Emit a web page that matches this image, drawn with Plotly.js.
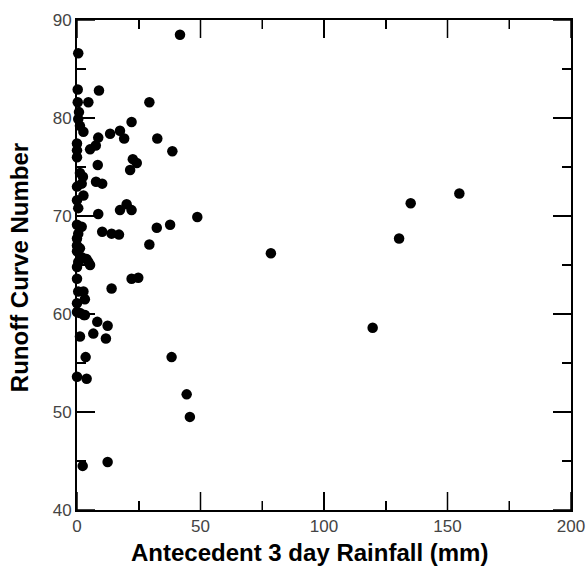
<!DOCTYPE html>
<html>
<head>
<meta charset="utf-8">
<script src="https://cdn.plot.ly/plotly-3.0.1.min.js"></script>
<style>html,body{margin:0;padding:0;background:#fff;}#wrap{position:relative;width:588px;height:567px;}#chart{width:588px;height:567px;}#tickOverlay{position:absolute;left:0;top:0;width:588px;height:567px;pointer-events:none;}</style>
</head>
<body>
<div id="wrap">
<div id="chart"></div>
<svg id="tickOverlay" xmlns="http://www.w3.org/2000/svg" width="588" height="567"></svg>
</div>
<script>
// Antecedent 3-day rainfall (mm)
const rainfall = [
  41.7, 8.9, 4.6, 29.3, 22.1, 13.4, 17.4, 19.1, 32.5, 8.6,
  7.6, 5.3, 38.6, 22.6, 24.2, 8.4, 21.5, 7.7, 10.2, 20.1,
  22.1, 17.4, 8.6, 48.7, 37.7, 32.3, 10.2, 14.0, 17.0, 29.3,
  78.5, 4.6, 22.1, 24.8, 14.0, 130.4, 135.1, 154.8, 119.7, 3.2,
  8.2, 12.4, 6.6, 11.7, 1.2, 3.5, 38.3, 0.0, 3.9, 44.4,
  45.7, 2.3, 12.4, 0.5, 0.3, 0.3, 0.8, 0.5, 1.2, 2.6,
  0.0, 0.0, 0.0, 1.2, 2.4, 1.9, 0.0, 2.6, 0.0, 0.5,
  0.0, 1.9, 0.5, 0.0, 0.0, 1.2, 0.0, 1.9, 3.9, 5.3,
  0.0, 0.5, 0.0, 0.5, 2.6, 0.0, 0.0, 1.2, 2.8, 3.2
];
// Runoff curve number
const curveNumber = [
  88.5, 82.8, 81.6, 81.6, 79.6, 78.4, 78.7, 77.9, 77.9, 78.0,
  77.2, 76.8, 76.6, 75.8, 75.4, 75.2, 74.7, 73.5, 73.3, 71.2,
  70.6, 70.6, 70.2, 69.9, 69.1, 68.8, 68.4, 68.2, 68.1, 67.1,
  66.2, 65.3, 63.6, 63.7, 62.6, 67.7, 71.3, 72.3, 58.6, 59.9,
  59.2, 58.8, 58.0, 57.5, 57.7, 55.6, 55.6, 53.6, 53.4, 51.8,
  49.5, 44.5, 44.9, 86.6, 82.9, 81.6, 80.6, 79.9, 79.2, 78.6,
  77.4, 76.7, 76.0, 74.4, 74.0, 73.3, 73.0, 72.1, 71.6, 70.8,
  69.1, 68.9, 68.2, 67.7, 67.0, 66.7, 66.4, 65.8, 65.6, 65.0,
  64.8, 65.3, 63.6, 62.3, 62.3, 61.1, 60.2, 60.1, 59.9, 61.5
];
const xRange = [0, 200];
const yRange = [40, 90];
const xTitle = 'Antecedent 3 day Rainfall (mm)';
const yTitle = 'Runoff Curve Number';

const trace = {
  x: rainfall, y: curveNumber, type: 'scatter', mode: 'markers', cliponaxis: false,
  marker: {color: '#000000', size: 10.5}
};

const FONT = 'Liberation Sans';
const MAJOR_LEN = 18, MINOR_LEN = 9;

function axis(range, dtick, minorDtick) {
  return {
    range: range, dtick: dtick,
    showgrid: false, zeroline: false, showline: true, linecolor: '#000', linewidth: 2,
    mirror: 'allticks', ticks: 'inside', ticklen: MAJOR_LEN, tickwidth: 1.5, tickcolor: '#000',
    tickfont: {family: FONT, size: 17},
    minor: {ticks: 'inside', ticklen: MINOR_LEN, tickwidth: 1.5, tickcolor: '#000', dtick: minorDtick}
  };
}

const titleFont = {family: FONT, size: 24, color: '#000'};

const layout = {
  width: 588, height: 567, margin: {l: 77, r: 17, t: 20, b: 57},
  xaxis: axis(xRange, 50, 25),
  yaxis: axis(yRange, 10, 5),
  annotations: [
    {text: '<b>' + xTitle + '</b>', xref: 'paper', yref: 'paper', x: 0.47, y: -0.086,
     xanchor: 'center', yanchor: 'middle', showarrow: false, font: titleFont},
    {text: '<b>' + yTitle + '</b>', xref: 'paper', yref: 'paper', x: -0.115, y: 0.494,
     xanchor: 'center', yanchor: 'middle', textangle: -90, showarrow: false, font: titleFont}
  ]
};

// Draw tick marks (major + minor, all four sides) using Plotly's own axis scales
function drawTicks(gd) {
  const svg = document.getElementById('tickOverlay');
  const NS = 'http://www.w3.org/2000/svg';
  const xa = gd._fullLayout.xaxis, ya = gd._fullLayout.yaxis;
  const x0 = xa._offset, x1 = xa._offset + xa._length;
  const y0 = ya._offset, y1 = ya._offset + ya._length;
  function line(xa1, ya1, xa2, ya2) {
    const l = document.createElementNS(NS, 'line');
    l.setAttribute('x1', xa1); l.setAttribute('y1', ya1);
    l.setAttribute('x2', xa2); l.setAttribute('y2', ya2);
    l.setAttribute('stroke', '#000'); l.setAttribute('stroke-width', '1.5');
    svg.appendChild(l);
  }
  const xd = xa.dtick, xm = xa.minor.dtick;
  for (let v = xRange[0]; v <= xRange[1] + 1e-9; v += xm) {
    const len = (Math.abs(v / xd - Math.round(v / xd)) < 1e-9) ? MAJOR_LEN : MINOR_LEN;
    const px = xa._offset + xa.l2p(v);
    line(px, y1, px, y1 - len);
    line(px, y0, px, y0 + len);
  }
  const yd = ya.dtick, ym = ya.minor.dtick;
  for (let v = yRange[0]; v <= yRange[1] + 1e-9; v += ym) {
    const len = (Math.abs(v / yd - Math.round(v / yd)) < 1e-9) ? MAJOR_LEN : MINOR_LEN;
    const py = ya._offset + ya.l2p(v);
    line(x0, py, x0 + len, py);
    line(x1, py, x1 - len, py);
  }
}

Plotly.newPlot('chart', [trace], layout, {displayModeBar: false, staticPlot: true})
  .then(function(gd){ drawTicks(gd); });
</script>
</body>
</html>
